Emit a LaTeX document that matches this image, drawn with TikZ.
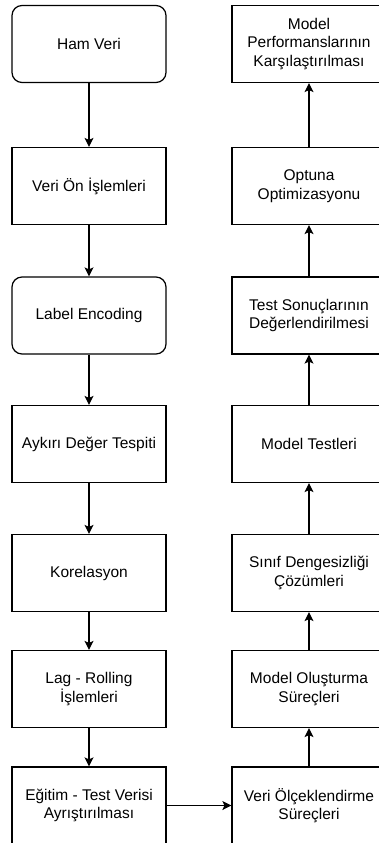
\documentclass[tikz,border=0pt]{standalone}
\usepackage{fontspec}
\setmainfont{Liberation Sans}
\usetikzlibrary{arrows.meta}
\begin{document}
\begin{tikzpicture}[x=1pt,y=-1pt,
  box/.style={draw, line width=1.2pt, minimum width=154pt, minimum height=77pt,
    align=center, font=\fontsize{15.5}{18.5}\selectfont, inner sep=0pt},
  rbox/.style={box, rounded corners=10pt},
  arr/.style={-{Stealth[length=9pt,width=9pt,inset=2pt]}, line width=1.2pt}]
\useasboundingbox (0,0) rectangle (379,843);
\clip (0,0) rectangle (379,843);
\fill[white] (0,0) rectangle (379,843);
% left column
\node[rbox] (ham) at (89,44) {Ham Veri};
\node[box] (veri) at (89,186) {Veri Ön İşlemleri};
\node[rbox] (label) at (89,315.5) {Label Encoding};
\node[box] (ayk) at (89,444) {Aykırı Değer Tespiti};
\node[box] (kor) at (89,573) {Korelasyon};
\node[box] (lag) at (89,689) {Lag - Rolling\\İşlemleri};
\node[box] (egt) at (89,805.5) {Eğitim - Test Verisi\\Ayrıştırılması};
% right column
\node[box] (perf) at (309,44) {Model\\Performanslarının\\Karşılaştırılması};
\node[box] (opt) at (309,186) {Optuna\\Optimizasyonu};
\node[box] (test) at (309,315.5) {Test Sonuçlarının\\Değerlendirilmesi};
\node[box] (mtest) at (309,444) {Model Testleri};
\node[box] (sinif) at (309,573) {Sınıf Dengesizliği\\Çözümleri};
\node[box] (olus) at (309,689) {Model Oluşturma\\Süreçleri};
\node[box] (olcek) at (309,805.5) {Veri Ölçeklendirme\\Süreçleri};
% connectors
\draw[arr] (ham) -- (veri);
\draw[arr] (veri) -- (label);
\draw[arr] (label) -- (ayk);
\draw[arr] (ayk) -- (kor);
\draw[arr] (kor) -- (lag);
\draw[arr] (lag) -- (egt);
\draw[arr] (egt) -- (olcek);
\draw[arr] (olcek) -- (olus);
\draw[arr] (olus) -- (sinif);
\draw[arr] (sinif) -- (mtest);
\draw[arr] (mtest) -- (test);
\draw[arr] (test) -- (opt);
\draw[arr] (opt) -- (perf);
\end{tikzpicture}
\end{document}
